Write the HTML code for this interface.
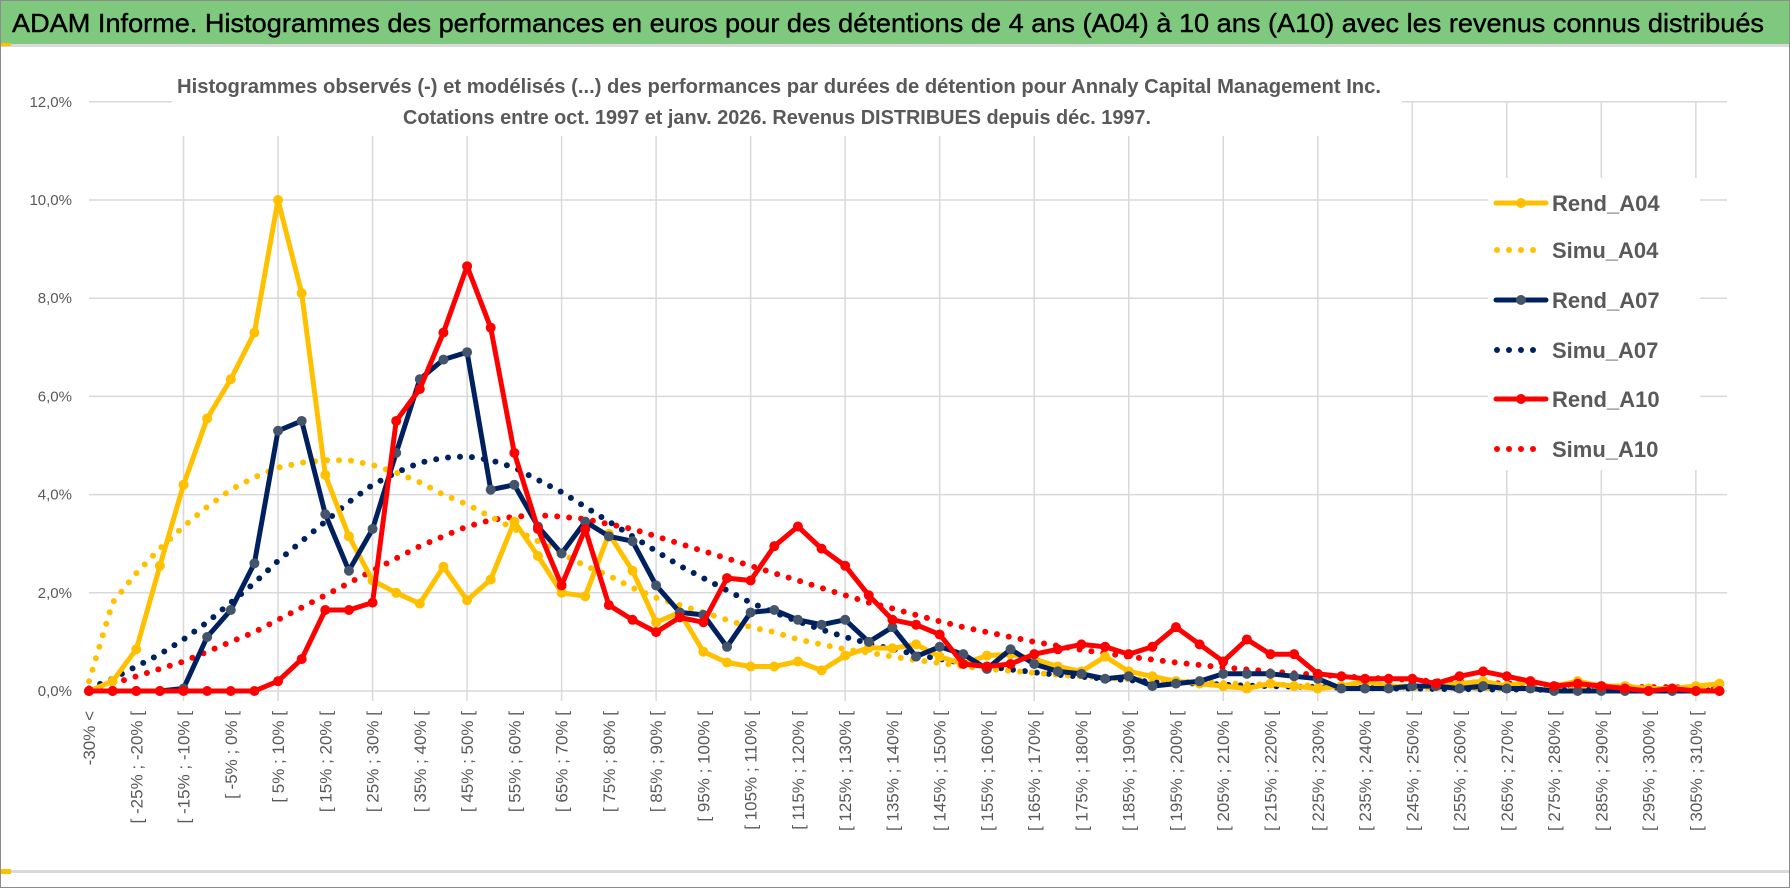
<!DOCTYPE html>
<html><head><meta charset="utf-8">
<style>
html,body{margin:0;padding:0;background:#fff;}
svg{display:block;font-family:"Liberation Sans",sans-serif;}
</style></head>
<body>
<svg id="chart" width="1790" height="888" viewBox="0 0 1790 888">
  <rect x="0.5" y="0.5" width="1789" height="887" fill="#fff" stroke="#8c8c8c"/>
  <rect x="1" y="1" width="1788" height="43" fill="#7fc97f"/>
  <rect x="1" y="44" width="1788" height="3" fill="#d9d9d9"/>
  <rect x="1" y="43" width="10" height="3" fill="#ffc000"/>
  <text x="12" y="32" font-size="26" fill="#000" stroke="#000" stroke-width="0.4" textLength="1752" lengthAdjust="spacingAndGlyphs">ADAM Informe. Histogrammes des performances en euros pour des détentions de 4 ans (A04) à 10 ans (A10) avec les revenus connus distribués</text>
  <g id="grid"></g>
  <rect x="172" y="68" width="1230" height="68" fill="#fff"/>
  <text x="177" y="93" font-size="20" font-weight="bold" fill="#595959" textLength="1204" lengthAdjust="spacingAndGlyphs">Histogrammes observés (-) et modélisés (...) des performances par durées de détention pour Annaly Capital Management Inc.</text>
  <text x="403" y="124" font-size="20" font-weight="bold" fill="#595959" textLength="748" lengthAdjust="spacingAndGlyphs">Cotations entre oct. 1997 et janv. 2026. Revenus DISTRIBUES depuis déc. 1997.</text>
  <g id="yaxis"></g>
  <g id="xaxis"></g>
  <g id="series"></g>
  <g id="legend"></g>
  <rect x="1" y="870" width="1788" height="3" fill="#d9d9d9"/>
  <rect x="1" y="869" width="10" height="5" fill="#ffc000"/>
</svg>
<script>
const yTicks = [0,2,4,6,8,10,12];
const yTickLabels = ["0,0%","2,0%","4,0%","6,0%","8,0%","10,0%","12,0%"];
const rendA04 = [0,0.2,0.85,2.55,4.2,5.55,6.35,7.3,10.0,8.1,4.4,3.15,2.25,2.0,1.78,2.53,1.85,2.27,3.45,2.75,2.0,1.93,3.2,2.45,1.4,1.6,0.8,0.58,0.5,0.5,0.6,0.42,0.72,0.88,0.87,0.95,0.7,0.55,0.72,0.75,0.65,0.5,0.4,0.7,0.4,0.3,0.2,0.15,0.1,0.05,0.15,0.1,0.05,0.1,0.2,0.1,0.1,0.1,0.15,0.2,0.1,0.2,0.1,0.2,0.1,0.1,0.05,0.05,0.1,0.15];
const rendA07 = [0,0,0,0,0.05,1.1,1.65,2.6,5.3,5.5,3.6,2.45,3.3,4.85,6.35,6.75,6.9,4.1,4.2,3.35,2.8,3.45,3.15,3.05,2.15,1.6,1.55,0.9,1.6,1.65,1.45,1.35,1.45,1.0,1.3,0.7,0.9,0.75,0.45,0.85,0.55,0.4,0.35,0.25,0.3,0.1,0.15,0.2,0.35,0.35,0.35,0.3,0.25,0.05,0.05,0.05,0.1,0.1,0.05,0.1,0.05,0.05,0,0,0,0,0,0,0,0];
const rendA10 = [0,0,0,0,0,0,0,0,0.2,0.65,1.65,1.65,1.8,5.5,6.15,7.3,8.65,7.4,4.85,3.3,2.15,3.3,1.75,1.45,1.2,1.5,1.4,2.3,2.25,2.95,3.35,2.9,2.55,1.95,1.45,1.35,1.15,0.55,0.5,0.55,0.75,0.85,0.95,0.9,0.75,0.9,1.3,0.95,0.6,1.05,0.75,0.75,0.35,0.3,0.25,0.25,0.25,0.15,0.3,0.4,0.3,0.2,0.1,0.15,0.1,0.05,0,0.05,0,0];
const simuA04 = [0.2,1.8,2.4,2.9,3.35,3.75,4.1,4.35,4.55,4.65,4.7,4.7,4.6,4.45,4.25,4.0,3.8,3.55,3.3,3.05,2.8,2.55,2.35,2.1,1.9,1.75,1.6,1.45,1.3,1.2,1.05,0.95,0.85,0.78,0.7,0.63,0.57,0.5,0.45,0.41,0.37,0.33,0.3,0.27,0.24,0.22,0.2,0.18,0.16,0.14,0.13,0.12,0.11,0.1,0.09,0.08,0.07,0.07,0.06,0.06,0.05,0.05,0.05,0.04,0.04,0.04,0.03,0.03,0.03,0.03];
const simuA07 = [0.05,0.25,0.5,0.75,1.05,1.4,1.8,2.2,2.65,3.05,3.45,3.85,4.2,4.45,4.65,4.75,4.78,4.7,4.55,4.3,4.05,3.75,3.45,3.15,2.85,2.55,2.3,2.05,1.8,1.6,1.42,1.25,1.1,0.97,0.85,0.75,0.65,0.57,0.5,0.44,0.38,0.33,0.29,0.25,0.22,0.19,0.17,0.15,0.13,0.11,0.1,0.09,0.08,0.07,0.06,0.05,0.05,0.04,0.04,0.03,0.03,0.03,0.02,0.02,0.02,0.02,0.01,0.01,0.01,0.01];
const simuA10 = [0.05,0.15,0.3,0.45,0.6,0.8,1.0,1.2,1.45,1.7,1.95,2.2,2.45,2.7,2.95,3.15,3.35,3.48,3.55,3.58,3.55,3.5,3.4,3.3,3.15,3.0,2.85,2.7,2.55,2.4,2.25,2.1,1.95,1.8,1.68,1.55,1.42,1.3,1.2,1.1,1.0,0.92,0.84,0.77,0.7,0.64,0.58,0.53,0.48,0.44,0.4,0.36,0.33,0.3,0.27,0.25,0.22,0.2,0.18,0.17,0.15,0.14,0.12,0.11,0.1,0.09,0.08,0.08,0.07,0.06];
const categories = [];
categories.push("-30% <");
for (let i = 1; i < 70; i++) { const lo = -35 + i*5; categories.push("[ " + lo + "% ; " + (lo+5) + "% ["); }

const NS = "http://www.w3.org/2000/svg";
const X0 = 89, STEP = 23.63, Y0 = 691, PPU = 49.1, XR = 1727;
function xs(i){ return X0 + i*STEP; }
function ys(v){ return Y0 - v*PPU; }
function mk(tag, attrs, parent){ const e = document.createElementNS(NS, tag); for (const k in attrs) e.setAttribute(k, attrs[k]); parent.appendChild(e); return e; }

const grid = document.getElementById('grid');
yTicks.forEach(function(t){
  const l = mk('line', {x1:X0, x2:XR, y1:ys(t), y2:ys(t), stroke:'#d9d9d9', 'stroke-width':1.5}, grid);
  
  
});
for (let i = 4; i < categories.length; i += 4) {
  const l = mk('line', {x1:xs(i), x2:xs(i), y1:ys(12), y2:Y0+10, stroke:'#d9d9d9', 'stroke-width':1.5}, grid);
  
  
}

const yaxis = document.getElementById('yaxis');
yTicks.forEach(function(t, k){
  const tx = mk('text', {x:72, y:ys(t)+5, 'font-size':15, fill:'#595959', 'text-anchor':'end'}, yaxis);
  tx.textContent = yTickLabels[k];
  
  
});

const xaxis = document.getElementById('xaxis');
for (let i = 0; i < categories.length; i += 2) {
  const x = xs(i) + 6, y = 711;
  const tx = mk('text', {x:x, y:y, 'font-size':17, fill:'#595959', 'text-anchor':'end', transform:'rotate(-90 '+x+' '+y+')'}, xaxis);
  tx.textContent = categories[i];
  
  
}

const seriesG = document.getElementById('series');
function pts(arr){ return arr.map(function(v,i){ return xs(i).toFixed(1)+','+ys(v).toFixed(1); }).join(' '); }
function dotted(arr, color, name){
  const p = mk('polyline', {points:pts(arr), fill:'none', stroke:color, 'stroke-width':6, 'stroke-linecap':'round', 'stroke-dasharray':'0 12'}, seriesG);
  
  
}
function solid(arr, color, mcolor, name){
  const p = mk('polyline', {points:pts(arr), fill:'none', stroke:color, 'stroke-width':5, 'stroke-linejoin':'round'}, seriesG);
  
  
  arr.forEach(function(v,i){
    const c = mk('circle', {cx:xs(i), cy:ys(v), r:5, fill:mcolor}, seriesG);
    
    
  });
}
dotted(simuA10, '#ff0000', 'simu-a10-line');
dotted(simuA07, '#002060', 'simu-a07-line');
dotted(simuA04, '#ffc000', 'simu-a04-line');
solid(rendA04, '#ffc000', '#ffc000', 'rend-a04-line');
solid(rendA07, '#002060', '#44546a', 'rend-a07-line');
solid(rendA10, '#ff0000', '#ff0000', 'rend-a10-line');

const legend = document.getElementById('legend');
const lb = mk('rect', {x:1488, y:178, width:212, height:292, fill:'#fff'}, legend);


const legItems = [["Rend_A04","#ffc000","#ffc000",false],["Simu_A04","#ffc000","",true],["Rend_A07","#002060","#44546a",false],["Simu_A07","#002060","",true],["Rend_A10","#ff0000","#ff0000",false],["Simu_A10","#ff0000","",true]];
const legY = [203,250,300,350,399,449];
legItems.forEach(function(it, k){
  const y = legY[k];
  const g = mk('g', {}, legend);
  
  
  if (it[3]) {
    mk('line', {x1:1497, x2:1539, y1:y, y2:y, stroke:it[1], 'stroke-width':6, 'stroke-linecap':'round', 'stroke-dasharray':'0 12'}, g);
  } else {
    mk('line', {x1:1496, x2:1546, y1:y, y2:y, stroke:it[1], 'stroke-width':5, 'stroke-linecap':'round'}, g);
    mk('circle', {cx:1521, cy:y, r:5, fill:it[2]}, g);
  }
  const t = mk('text', {x:1552, y:y+8, 'font-size':22, 'font-weight':'bold', fill:'#595959'}, g);
  t.textContent = it[0];
});
</script>
</body></html>
